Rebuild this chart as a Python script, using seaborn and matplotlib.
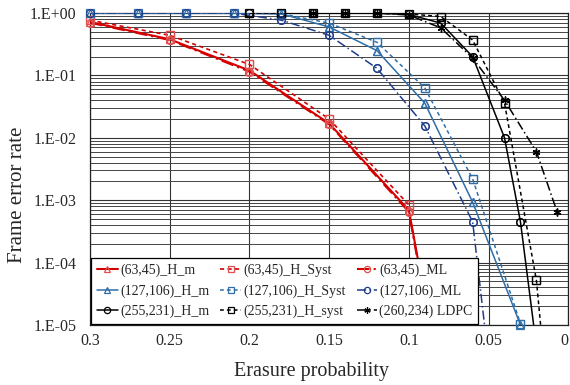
import numpy as np
import pandas as pd
import matplotlib
matplotlib.use("Agg")
import matplotlib.pyplot as plt
import seaborn as sns
from matplotlib.ticker import LogLocator, FuncFormatter, NullFormatter

# ========= Data =========
x_red = [0.30, 0.25, 0.20, 0.15, 0.10, 0.05]
red_hm = [0.72, 0.38, 0.12, 0.017, 6.9e-4, 8e-11]
red_ml = [0.70, 0.37, 0.115, 0.0165, 6.5e-4, 5e-11]
x_red_syst = [0.30, 0.25, 0.20, 0.15, 0.10]
red_syst = [0.77, 0.44, 0.15, 0.020, 8.4e-4]

x_blue = [0.30, 0.27, 0.24, 0.21, 0.18, 0.15, 0.12, 0.09, 0.06, 0.03]
blue_hm = [1.0, 1.0, 1.0, 1.0, 0.97, 0.60, 0.25, 0.036, 9.3e-4, 1.0e-5]
blue_syst = [1.0, 1.0, 1.0, 1.0, 0.98, 0.69, 0.34, 0.063, 2.2e-3, 1.05e-5]
blue_ml = [1.0, 1.0, 1.0, 1.0, 0.77, 0.44, 0.13, 0.0155, 4.5e-4, 1e-10]

x_black_hm = [0.20, 0.18, 0.16, 0.14, 0.12, 0.10, 0.08, 0.06, 0.04, 0.03, 0.02]
black_hm = [1.0, 1.0, 1.0, 1.0, 1.0, 0.95, 0.69, 0.20, 0.010, 4.5e-4, 4.5e-6]
x_black_syst = [0.20, 0.18, 0.16, 0.14, 0.12, 0.10, 0.08, 0.06, 0.04, 0.02, 0.01]
black_syst = [1.0, 1.0, 1.0, 1.0, 1.0, 0.97, 0.88, 0.37, 0.036, 5.2e-5, 1e-7]
x_ldpc = [0.16, 0.14, 0.12, 0.10, 0.08, 0.06, 0.04, 0.02, 0.007]
ldpc = [1.0, 1.0, 1.0, 0.93, 0.58, 0.19, 0.040, 0.006, 6.5e-4]

x_ticks = [0.3, 0.25, 0.2, 0.15, 0.1, 0.05, 0]
x_tick_labels = ["0.3", "0.25", "0.2", "0.15", "0.1", "0.05", "0"]

# ========= Styles =========
RED = "#d40000"
RED_M = "#e05050"
BLUE = "#2f6ea8"
NAVY = "#1f3d8a"
BLACK = "#000000"
solid = "-"
dashed = (0, (2.5, 2))
dashdot = (0, (6, 2, 1, 2))
star = (6, 2, 0)

# legend order: column by column
series = [
    ("(63,45)_H_m", x_red, red_hm, RED, RED_M, solid, "^", 1.5),
    ("(127,106)_H_m", x_blue, blue_hm, BLUE, BLUE, solid, "^", 1.1),
    ("(255,231)_H_m", x_black_hm, black_hm, BLACK, BLACK, solid, "o", 1.1),
    ("(63,45)_H_Syst", x_red_syst, red_syst, RED, RED_M, dashed, "s", 1.2),
    ("(127,106)_H_Syst", x_blue, blue_syst, BLUE, BLUE, dashed, "s", 1.1),
    ("(255,231)_H_syst", x_black_syst, black_syst, BLACK, BLACK, dashed, "s", 1.1),
    ("(63,45)_ML", x_red, red_ml, RED, RED_M, dashdot, "o", 1.5),
    ("(127,106)_ML", x_blue, blue_ml, NAVY, NAVY, dashdot, "o", 1.1),
    ("(260,234) LDPC", x_ldpc, ldpc, BLACK, BLACK, dashdot, star, 1.1),
]

# ========= Plot =========
sns.set_theme(style="white")
plt.rcParams["font.family"] = ["Liberation Serif", "DejaVu Serif"]

fig, ax = plt.subplots(figsize=(5.7, 3.85), dpi=100)
fig.subplots_adjust(left=0.158, right=0.997, top=0.966, bottom=0.156)
ax.set_yscale("log")

handles = []
for label, xs, ys, col, mcol, ls, mk, lw in series:
    df = pd.DataFrame({"p": xs, "fer": ys})
    sns.lineplot(data=df, x="p", y="fer", ax=ax, color=col, linestyle=ls,
                 linewidth=lw, marker=mk, markersize=5.5, markerfacecolor="none",
                 markeredgecolor=mcol, markeredgewidth=0.9, sort=False,
                 estimator=None, label=label, zorder=3)
    handles.append(ax.lines[-1])
    # markers sitting on the top border should not be cut
    inside = df[df["fer"] >= 0.999e-5]
    ax.plot(inside["p"], inside["fer"], linestyle="none", marker=mk, markersize=5.5,
            markerfacecolor="none", markeredgecolor=mcol, markeredgewidth=0.9,
            clip_on=False, zorder=4)

ax.set_xlim(0.3, 0)
ax.set_ylim(1e-5, 1)
ax.set_xticks(x_ticks)
xlabels = ax.set_xticklabels(x_tick_labels)
xlabels[-1].set_horizontalalignment("right")
ax.yaxis.set_major_locator(LogLocator(base=10))
ax.yaxis.set_minor_locator(LogLocator(base=10, subs=np.arange(2, 10)))
ax.yaxis.set_minor_formatter(NullFormatter())
ax.yaxis.set_major_formatter(FuncFormatter(lambda v, p: f"1.E{int(round(np.log10(v))):+03d}"))

ax.grid(which="major", axis="both", color="#333333", linewidth=0.8)
ax.grid(which="minor", axis="y", color="#444444", linewidth=0.7)
ax.tick_params(which="both", length=0, labelsize=11.5)
ax.tick_params(axis="y", pad=10)
ax.tick_params(axis="x", pad=6)
for s in ax.spines.values():
    s.set_color("#222222")
    s.set_linewidth(0.9)

ax.set_xlabel("Erasure probability", fontsize=14.5)
ax.set_ylabel("Frame error rate", fontsize=15)
ax.xaxis.set_label_coords(0.462, -0.12)
ax.yaxis.set_label_coords(-0.132, 0.417)

leg = ax.legend(handles=handles, labels=[s[0] for s in series], ncol=3,
                loc="lower left", bbox_to_anchor=(0.0, 0.0), borderaxespad=0.1,
                fontsize=10, frameon=True, fancybox=False, edgecolor="black",
                framealpha=1, handlelength=1.5, handletextpad=0.15,
                columnspacing=0.8, labelspacing=0.5, borderpad=0.4)
leg.get_frame().set_linewidth(0.9)
for h in leg.legend_handles:
    h.set_markersize(4.5)

fig.savefig("out.png", dpi=100)
